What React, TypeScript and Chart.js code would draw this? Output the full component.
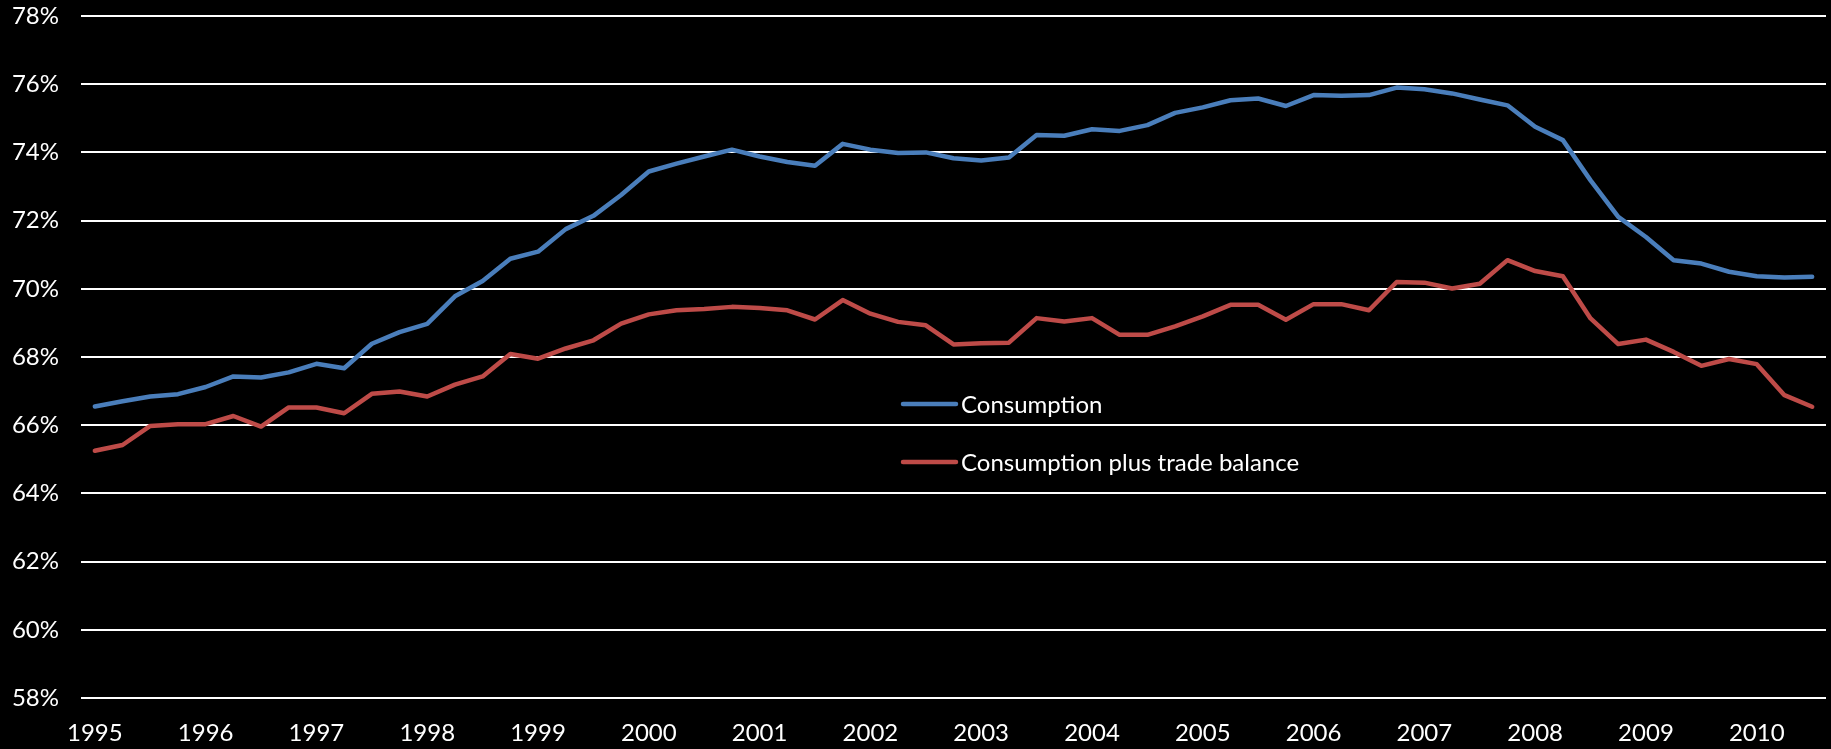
import React, { useEffect, useRef } from "react";
import { Chart, registerables } from "chart.js";

Chart.register(...registerables);

const years = ["1995","1996","1997","1998","1999","2000","2001","2002","2003","2004","2005","2006","2007","2008","2009","2010"];
const quartersPerYear = ["Q1", "Q2", "Q3", "Q4"];
const lastQuarterCount = 63;

const consumption = [
  66.55, 66.70, 66.84, 66.91, 67.12, 67.43, 67.40, 67.55, 67.80, 67.67, 68.39, 68.73, 68.97, 69.78, 70.23, 70.88,
  71.09, 71.75, 72.14, 72.75, 73.44, 73.67, 73.88, 74.08, 73.88, 73.72, 73.61, 74.25, 74.08, 73.98, 74.00, 73.83,
  73.76, 73.85, 74.51, 74.49, 74.68, 74.63, 74.80, 75.16, 75.32, 75.53, 75.58, 75.36, 75.68, 75.66, 75.68, 75.90,
  75.85, 75.73, 75.55, 75.38, 74.75, 74.36, 73.18, 72.11, 71.52, 70.84, 70.74, 70.50, 70.37, 70.33, 70.35,
];

const consumptionPlusTrade = [
  65.25, 65.42, 65.98, 66.03, 66.03, 66.27, 65.96, 66.52, 66.52, 66.35, 66.92, 66.99, 66.84, 67.19, 67.43, 68.09,
  67.95, 68.25, 68.49, 68.98, 69.25, 69.37, 69.41, 69.47, 69.44, 69.37, 69.10, 69.67, 69.27, 69.03, 68.93, 68.37,
  68.40, 68.42, 69.14, 69.04, 69.14, 68.65, 68.65, 68.90, 69.19, 69.53, 69.53, 69.09, 69.55, 69.55, 69.37, 70.20,
  70.18, 70.01, 70.15, 70.84, 70.52, 70.37, 69.13, 68.38, 68.51, 68.15, 67.74, 67.94, 67.79, 66.88, 66.54,
];

const seriesNames = ["Consumption", "Consumption plus trade balance"];
const seriesColors = ["#4A7EBB", "#BE4B48"];

const yMin = 58;
const yMax = 78;
const yStep = 2;

const categories: string[] = [];
years.forEach((y) => quartersPerYear.forEach((q) => categories.push(y + " " + q)));
categories.length = lastQuarterCount;

const FONT = "Lato, 'Open Sans', sans-serif";

const legendPlugin = {
  id: "inPlotLegend",
  afterDraw(chart: any) {
    const ctx = chart.ctx;
    ctx.save();
    chart.data.datasets.forEach((ds: any, k: number) => {
      const yLine = 404 + k * 58;
      ctx.strokeStyle = ds.borderColor;
      ctx.lineWidth = 4.5;
      ctx.lineCap = "round";
      ctx.beginPath();
      ctx.moveTo(903, yLine);
      ctx.lineTo(956, yLine);
      ctx.stroke();
      ctx.fillStyle = "#ffffff";
      ctx.font = "24px " + FONT;
      ctx.textBaseline = "alphabetic";
      ctx.textAlign = "left";
      ctx.fillText(ds.label, 961, yLine + 8.5);
    });
    ctx.restore();
  },
};

export default function App() {
  const ref = useRef<HTMLCanvasElement | null>(null);

  useEffect(() => {
    document.body.style.margin = "0";
    document.body.style.background = "#000";
    const canvas = ref.current!;
    const chart = new Chart(canvas, {
      type: "line",
      data: {
        labels: categories,
        datasets: [
          {
            label: seriesNames[0],
            data: consumption,
            borderColor: seriesColors[0],
            backgroundColor: seriesColors[0],
            borderWidth: 4.5,
            pointRadius: 0,
            tension: 0,
            borderJoinStyle: "round",
            borderCapStyle: "round",
          },
          {
            label: seriesNames[1],
            data: consumptionPlusTrade,
            borderColor: seriesColors[1],
            backgroundColor: seriesColors[1],
            borderWidth: 4.5,
            pointRadius: 0,
            tension: 0,
            borderJoinStyle: "round",
            borderCapStyle: "round",
          },
        ],
      },
      options: {
        responsive: false,
        animation: false,
        layout: { padding: { top: 0, right: 5, bottom: 0, left: 0 } },
        plugins: {
          legend: { display: false },
          tooltip: { enabled: false },
        },
        scales: {
          x: {
            type: "category",
            offset: true,
            grid: { display: false, drawTicks: false },
            border: { display: false },
            ticks: {
              autoSkip: false,
              maxRotation: 0,
              minRotation: 0,
              padding: 21,
              color: "#ffffff",
              font: { family: FONT, size: 24 },
              callback: (_v: any, i: number) => (i % 4 === 0 ? years[i / 4] : ""),
            },
            afterFit: (scale: any) => {
              scale.height = 51;
              scale.paddingLeft = 0;
              scale.paddingRight = 0;
            },
          },
          y: {
            min: yMin,
            max: yMax,
            grid: { color: "#ffffff", lineWidth: 2, drawTicks: false },
            border: { display: false },
            ticks: {
              stepSize: yStep,
              padding: 22,
              color: "#ffffff",
              font: { family: FONT, size: 24 },
              callback: (v: any) => v + "%",
            },
            afterFit: (scale: any) => {
              scale.width = 81;
              scale.paddingTop = 16;
              scale.paddingBottom = 0;
            },
          },
        },
      },
      plugins: [legendPlugin],
    });
    return () => chart.destroy();
  }, []);

  return (
    <div style={{ position: "fixed", left: 0, top: 0, width: 1831, height: 749, background: "#000" }}>
      <canvas ref={ref} width={1831} height={749} style={{ display: "block" }} />
    </div>
  );
}
